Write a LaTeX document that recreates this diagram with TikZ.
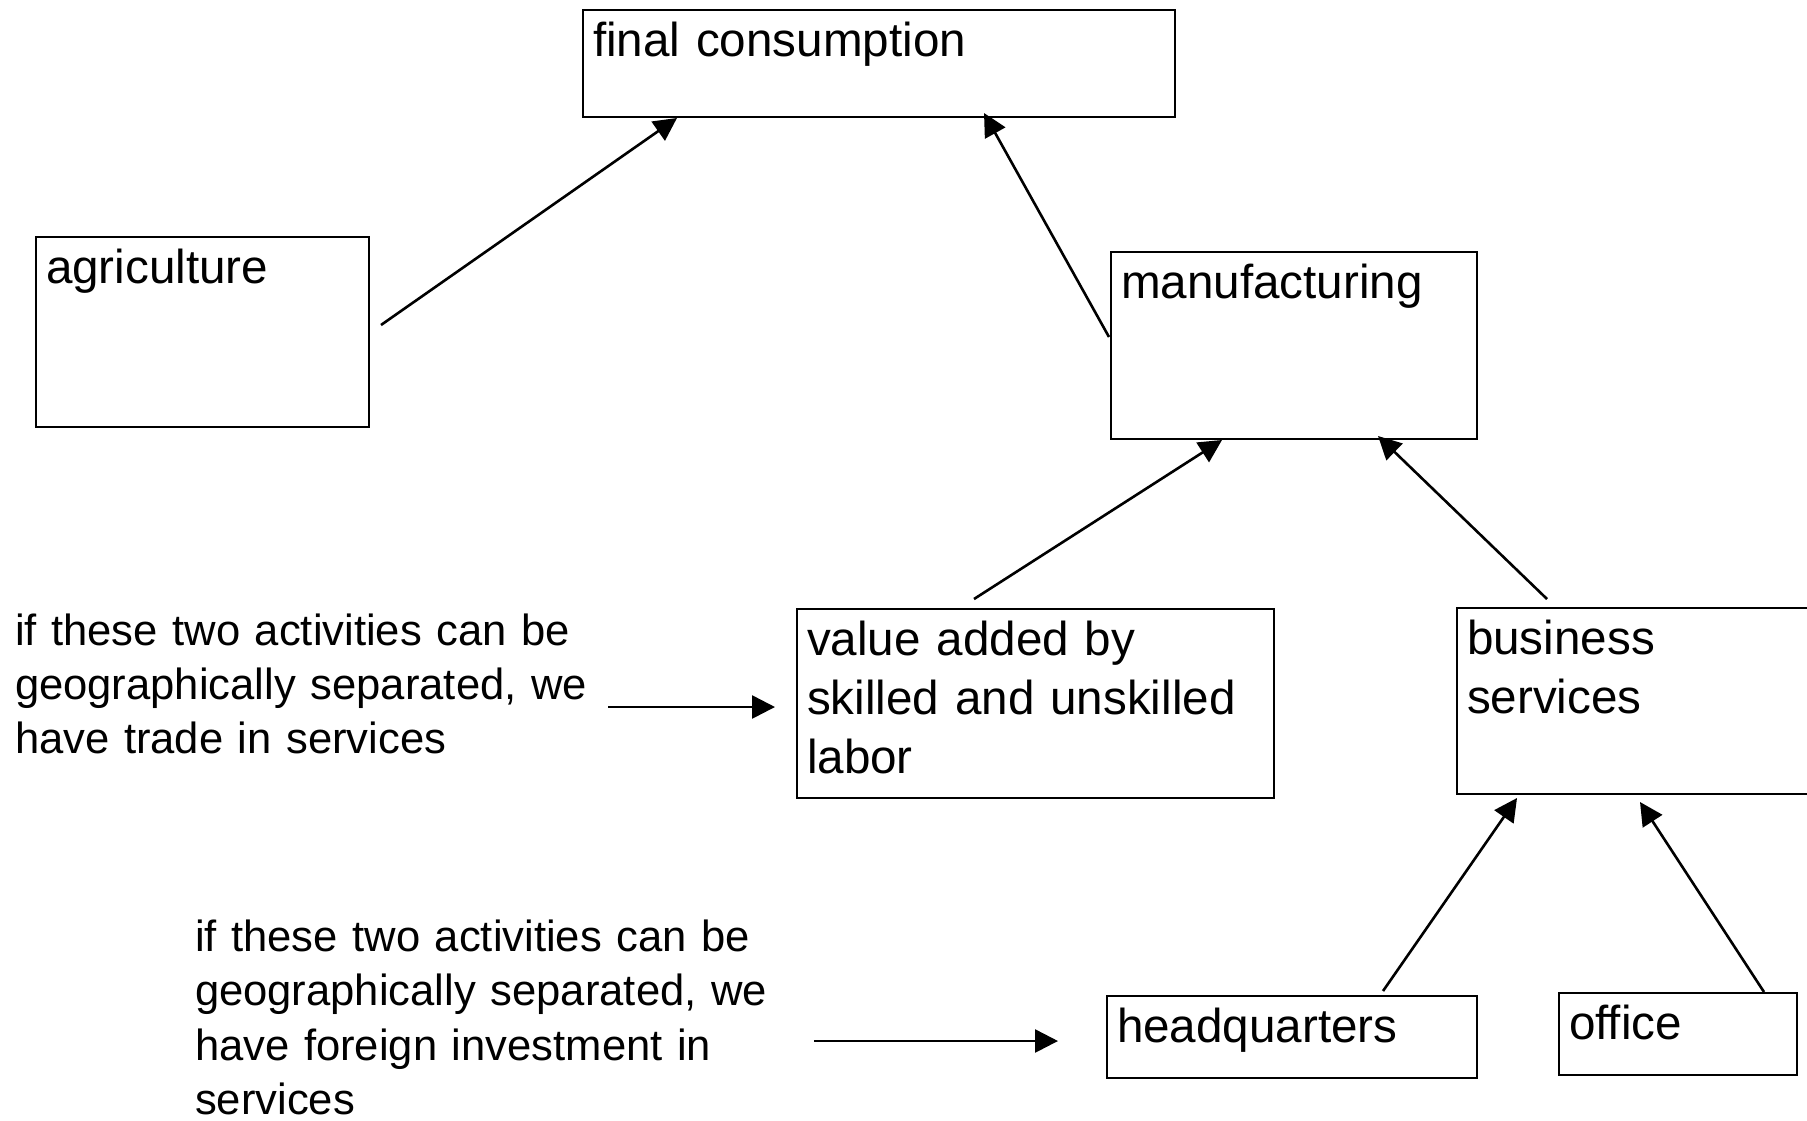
\documentclass[tikz,border=0pt]{standalone}
\usepackage{fontspec}
\setmainfont{Liberation Sans}
\usetikzlibrary{arrows.meta,calc}
\newcommand{\boxfont}{\fontsize{23.8pt}{29.6pt}\selectfont}
\newcommand{\notefont}{\fontsize{21.8pt}{27pt}\selectfont}
\newcommand{\notefontb}{\fontsize{21.8pt}{27.3pt}\selectfont}
\tikzset{
  box/.style={draw, line width=1.3pt, outer sep=0pt, inner xsep=5pt, inner ysep=0pt,
    text height=23pt, anchor=north west, align=left, font=\boxfont},
  note/.style={inner sep=0pt, outer sep=0pt, anchor=base west, align=left, font=\notefont, text width=290pt},
  arr/.style={line width=1.3pt, -{Triangle[length=11.5pt,width=11.5pt]}}
}
\begin{document}
\begin{tikzpicture}[x=0.5pt,y=-0.5pt]
\useasboundingbox (0,0) rectangle (1807,1120);
\clip (0,0) rectangle (1807,1120);
\fill[white] (0,0) rectangle (1807,1120);

\node[box, text width=286pt, text depth=30.5pt] (final) at (583,10) {final consumption};
\node[box, text width=156.5pt, text depth=72pt] (agri) at (36,237) {agriculture};
\node[box, text width=173pt, text depth=70.5pt] (manu) at (1111,252) {manufacturing};
\node[box, text width=228.5pt, text depth=71.5pt] (value) at (797,609) {value added by\\skilled and unskilled\\labor};
\node[box, text width=176.5pt, text depth=70pt] (busi) at (1457,608) {business\\services};
\node[box, text width=175pt, text depth=18pt] (hq) at (1107,996) {headquarters};
\node[box, text width=109pt, text depth=18pt] (office) at (1559,993) {office};

\node[note] (t1) at (15,645) {if these two activities can be\\geographically separated, we\\have trade in services};
\node[note, font=\notefontb] (t2) at (195,951) {if these two activities can be\\geographically separated, we\\have foreign investment in\\services};

\draw[arr] ($(agri.east)+(12,-7)$) -- ($(final.south)+(-202,1)$);
\draw[arr] ($(manu.west)+(-2,-8.5)$) -- ($(final.south)+(105,-4)$);
\draw[arr] ($(value.north)+(-61.5,-10)$) -- ($(manu.south)+(-72,1)$);
\draw[arr] ($(busi.north)+(-96.5,-9)$) -- ($(manu.south)+(84,-3)$);
\draw[arr] ($(hq.north)+(91,-5)$) -- ($(busi.south)+(-126.5,4)$);
\draw[arr] ($(office.north)+(86,-1)$) -- ($(busi.south)+(-3.5,8)$);
\draw[arr] ($(value.west)+(-189,3.5)$) -- ($(value.west)+(-22,3.5)$);
\draw[arr] ($(hq.west)+(-293,4)$) -- ($(hq.west)+(-49,4)$);
\end{tikzpicture}
\end{document}
